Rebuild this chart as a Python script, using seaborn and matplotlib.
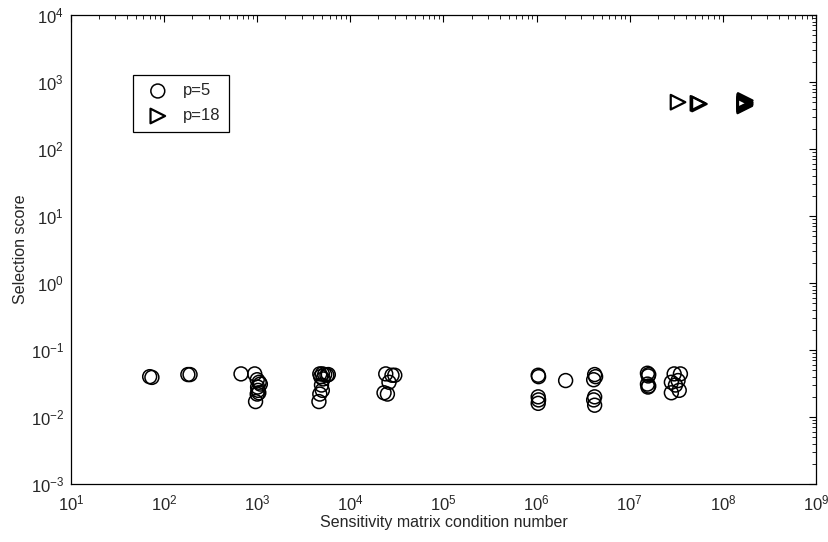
import matplotlib
matplotlib.use("Agg")
import matplotlib.pyplot as plt
import matplotlib.ticker as mticker
import numpy as np
import pandas as pd
import seaborn as sns

# Condition number / selection score, p=5 sensor sets
cond_p5 = [70, 74, 180, 190, 670, 940,
           1000, 1050, 1080, 1020, 1000, 960, 1040, 1010,
           4700, 5000, 5300, 4800, 5100, 4900, 5000, 4700, 4600, 5600, 5800,
           24000, 28000, 26000, 23000, 25000, 30000,
           1.04e6, 1.05e6, 1.04e6, 1.05e6, 1.04e6,
           2.05e6,
           4.2e6, 4.3e6, 4.1e6, 4.2e6, 4.1e6, 4.2e6,
           1.55e7, 1.6e7, 1.58e7, 1.55e7, 1.6e7, 1.57e7,
           3.0e7, 3.5e7, 2.8e7, 3.3e7, 2.8e7, 3.4e7, 3.1e7]
score_p5 = [0.040, 0.039, 0.043, 0.043, 0.044, 0.044,
            0.036, 0.033, 0.031, 0.025, 0.022, 0.017, 0.023, 0.028,
            0.044, 0.044, 0.043, 0.040, 0.037, 0.030, 0.025, 0.022, 0.017, 0.042, 0.043,
            0.044, 0.042, 0.033, 0.023, 0.022, 0.042,
            0.042, 0.040, 0.020, 0.018, 0.016,
            0.035,
            0.043, 0.040, 0.036, 0.020, 0.018, 0.015,
            0.045, 0.043, 0.041, 0.031, 0.029, 0.028,
            0.044, 0.044, 0.033, 0.035, 0.023, 0.025, 0.030]

# p=18 sensor sets
cond_p18 = [3.3e7, 5.4e7, 5.6e7,
            1.72e8, 1.73e8, 1.72e8, 1.74e8, 1.73e8, 1.72e8, 1.74e8, 1.73e8]
score_p18 = [500, 480, 470,
             440, 455, 470, 485, 500, 515, 530, 460]

# decade ticks shown on each axis
x_decades = list(range(1, 10))
y_decades = list(range(-3, 5))

sns.set_style("white")
plt.rcParams["font.family"] = ["Liberation Sans", "DejaVu Sans"]
plt.rcParams["mathtext.fontset"] = "custom"
plt.rcParams["mathtext.rm"] = "Liberation Sans"
plt.rcParams["mathtext.it"] = "Liberation Sans:italic"

df5 = pd.DataFrame({"cond": cond_p5, "score": score_p5})
df18 = pd.DataFrame({"cond": cond_p18, "score": score_p18})

fig = plt.figure(figsize=(8.29, 5.42), dpi=100)
ax = fig.add_axes([0.0856, 0.107, 0.8987, 0.8653])

sns.scatterplot(data=df5, x="cond", y="score", marker="o", s=100,
                facecolor="none", edgecolor="black", linewidth=1.1,
                label="p=5", ax=ax)
sns.scatterplot(data=df18, x="cond", y="score", marker=">", s=110,
                facecolor="none", edgecolor="black", linewidth=1.6,
                label="p=18", ax=ax)

ax.set_xscale("log")
ax.set_yscale("log")
ax.set_xlim(1e1, 1e9)
ax.set_ylim(1e-3, 1e4)
ax.set_xticks([10.0 ** k for k in x_decades])
ax.set_yticks([10.0 ** k for k in y_decades])
ax.set_xticklabels([rf"$10^{{{k}}}$" for k in x_decades])
ax.set_yticklabels([rf"$10^{{{k}}}$" for k in y_decades])
ax.xaxis.set_minor_locator(mticker.LogLocator(base=10, subs=np.arange(2, 10), numticks=20))
ax.yaxis.set_minor_locator(mticker.LogLocator(base=10, subs=np.arange(2, 10), numticks=20))
ax.xaxis.set_minor_formatter(mticker.NullFormatter())
ax.yaxis.set_minor_formatter(mticker.NullFormatter())

ax.tick_params(which="both", direction="in", top=True, right=True,
               color="black", labelsize=12)
ax.tick_params(which="major", length=5, width=0.8)
ax.tick_params(which="minor", length=3, width=0.6)
ax.tick_params(axis="x", which="major", pad=7)
ax.tick_params(axis="y", which="major", pad=5)
for s in ax.spines.values():
    s.set_color("black")
    s.set_linewidth(0.9)

ax.set_xlabel("Sensitivity matrix condition number", fontsize=11.5, labelpad=1)
ax.set_ylabel("Selection score", fontsize=11.5, labelpad=2)

leg = ax.legend(loc="upper left", bbox_to_anchor=(0.083, 0.872),
                borderaxespad=0, fancybox=False, framealpha=1,
                edgecolor="black", fontsize=12, handletextpad=0.5,
                borderpad=0.5, labelspacing=0.6)
leg.get_frame().set_linewidth(0.9)

fig.savefig("out.png", dpi=100)
